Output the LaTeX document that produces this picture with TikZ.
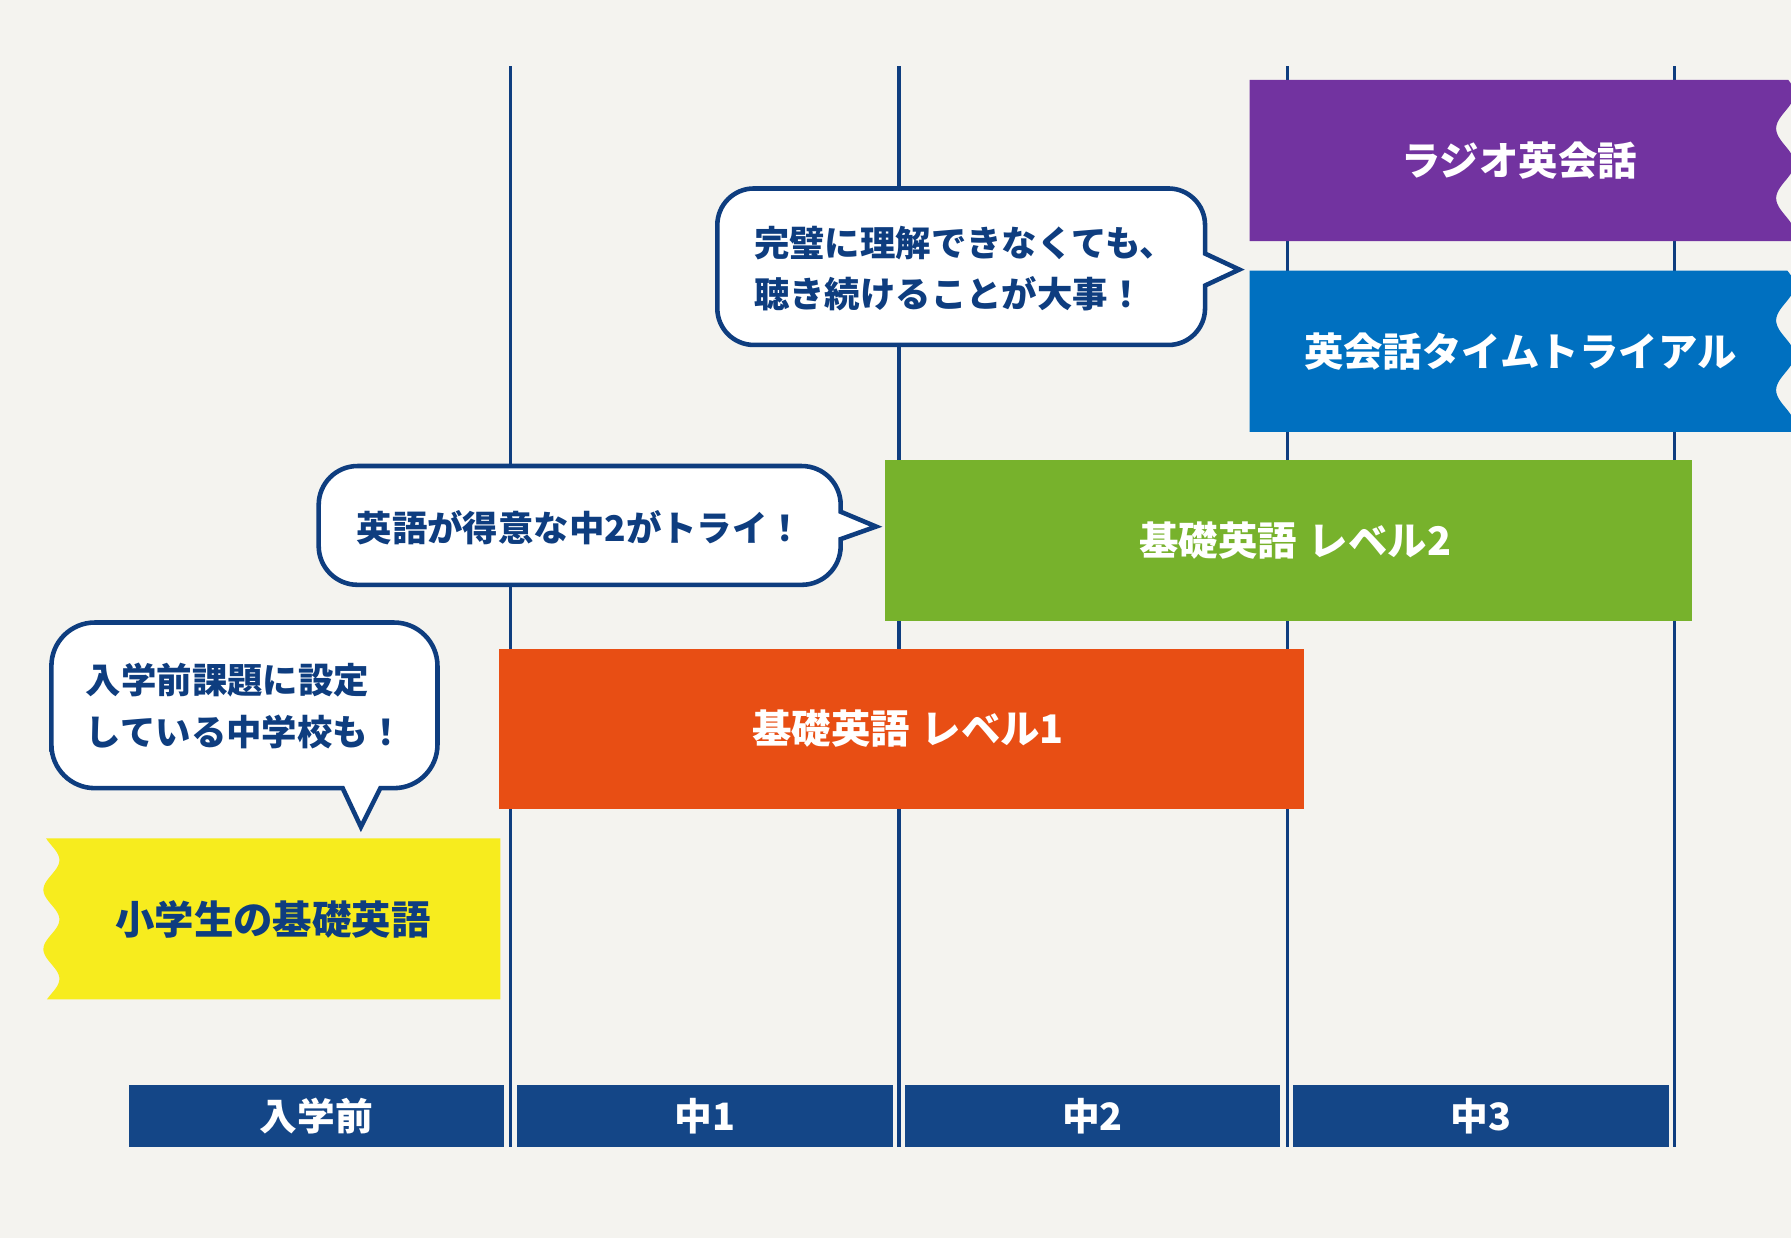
\documentclass[tikz,border=0pt]{standalone}
\usepackage{fontspec}
\newfontfamily\jp{Noto Sans CJK JP}
\definecolor{bg}{HTML}{F4F3EF}
\definecolor{navy}{HTML}{0E3D7F}
\definecolor{barnavy}{HTML}{144687}
\definecolor{cpurple}{HTML}{7233A0}
\definecolor{cblue}{HTML}{0070C0}
\definecolor{cgreen}{HTML}{77B22C}
\definecolor{corange}{HTML}{E84E14}
\definecolor{cyellow}{HTML}{F7EC1E}
\tikzset{
  vline/.style={draw=navy, line width=3pt},
  boxtext/.style={text=white, font=\jp\bfseries\fontsize{34.5}{40}\selectfont, inner sep=0pt},
  plainbox/.style={boxtext, inner sep=0pt},
  yearbar/.style={fill=barnavy, text=white, font=\jp\bfseries\fontsize{33}{40}\selectfont, minimum width=329pt, minimum height=55pt, inner sep=0pt},
  callout/.style={draw=navy, fill=white, line width=4pt, line join=miter},
  callouttext/.style={text=navy, font=\jp\bfseries\fontsize{31}{45}\selectfont, align=left, anchor=west, inner sep=0pt},
}
\begin{document}
\begin{tikzpicture}[x=1pt,y=-1pt]
\clip (0,0) rectangle (1568,1084);
\fill[bg] (0,0) rectangle (1568,1084);
% grid lines
\foreach \x in {447,787,1127,1466} \draw[vline] (\x,58) -- (\x,1004);
% year bars
\node[yearbar] (y0) at (277,977) {入学前};
\node[yearbar] (y1) at (617,977) {中1};
\node[yearbar] (y2) at (956.5,977) {中2};
\node[yearbar] (y3) at (1296.5,977) {中3};
% purple box
\fill[cpurple] (1094,70) -- plot[domain=70:211, samples=80, variable=\t] ({1563+8*cos((\t-143)*5.9016)}, \t) -- (1094,211) -- cycle;
\node[boxtext] (radio) at (1330,141) {ラジオ英会話};
% blue box
\fill[cblue] (1094,237) -- plot[domain=237:378, samples=80, variable=\t] ({1563+8*cos((\t-311)*5.9016)}, \t) -- (1094,378) -- cycle;
\node[boxtext] (time) at (1331,308) {英会話タイムトライアル};
% green box
\node[plainbox, fill=cgreen, minimum width=706pt, minimum height=141pt] (lv2) at (1128,473.5) {};
\node[boxtext] (lv2t) at (1134,473.5) {基礎英語\hspace{0.3em}レベル2};
% orange box
\node[plainbox, fill=corange, minimum width=705pt, minimum height=140pt] (lv1) at (789.5,638) {};
\node[boxtext] (lv1t) at (795,638) {基礎英語\hspace{0.3em}レベル1};
% yellow box
\fill[cyellow] (438,734) -- plot[domain=734:875, samples=80, variable=\t] ({45+7*cos((\t-753)*6.9231)}, \t) -- (438,875) -- cycle;
\node[boxtext, text=navy] (elem) at (239,805) {小学生の基礎英語};
% callout 1
\draw[callout] (840,165) [rounded corners=32pt] -- (628,165) -- (628,302) -- (1055,302) [sharp corners] -- (1055,250) -- (1085,236) -- (1055,222) [rounded corners=32pt] -- (1055,165) -- cycle;
\node[callouttext] (c1) at (660,235) {完璧に理解できなくても、\\聴き続けることが大事！};
% callout 2
\draw[callout] (500,408) [rounded corners=34pt] -- (279,408) -- (279,512) -- (736,512) [sharp corners] -- (736,472) -- (767,461) -- (736,448) [rounded corners=34pt] -- (736,408) -- cycle;
\node[callouttext] (c2) at (312,462) {英語が得意な中2がトライ！};
% callout 3
\draw[callout] (45,620) [rounded corners=38pt] -- (45,545) -- (383,545) -- (383,690) [sharp corners] -- (333,690) -- (316,724) -- (300,690) [rounded corners=38pt] -- (45,690) -- cycle;
\node[callouttext] (c3) at (75,618) {入学前課題に設定\\している中学校も！};
\end{tikzpicture}
\end{document}
